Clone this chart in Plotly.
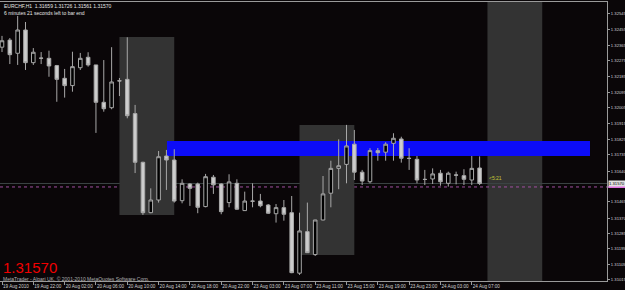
import plotly.graph_objects as go

# ---- data (EURCHF, H1) ----
bars = list(range(62))
opens = [1.32354, 1.32395, 1.32319, 1.32453, 1.32265, 1.32290, 1.32290, 1.32248, 1.32175, 1.32133,
         1.32236, 1.32296, 1.32252, 1.32037, 1.32006, 1.32161, 1.32169, 1.31972, 1.31692, 1.31402,
         1.31475, 1.31728, 1.31705, 1.31471, 1.31567, 1.31567, 1.31437, 1.31606, 1.31567, 1.31460,
         1.31571, 1.31414, 1.31469, 1.31469, 1.31446, 1.31396, 1.31431, 1.31402, 1.31054, 1.31293,
         1.31161, 1.31360, 1.31514, 1.31657, 1.31680, 1.31796, 1.31635, 1.31580, 1.31759, 1.31750,
         1.31801, 1.31826, 1.31715, 1.31709, 1.31594, 1.31596, 1.31629, 1.31571, 1.31619, 1.31615,
         1.31590, 1.31659]
highs = [1.32419, 1.32407, 1.32534, 1.32499, 1.32349, 1.32326, 1.32334, 1.32252, 1.32229, 1.32328,
         1.32321, 1.32325, 1.32252, 1.32280, 1.32354, 1.32177, 1.32411, 1.32022, 1.31695, 1.31542,
         1.31757, 1.31763, 1.31767, 1.31594, 1.31571, 1.31575, 1.31625, 1.31619, 1.31571, 1.31623,
         1.31594, 1.31523, 1.31571, 1.31510, 1.31452, 1.31452, 1.31475, 1.31498, 1.31402, 1.31460,
         1.31361, 1.31613, 1.31701, 1.31824, 1.31907, 1.31878, 1.31648, 1.31773, 1.31774, 1.31807,
         1.31859, 1.31839, 1.31773, 1.31728, 1.31648, 1.31657, 1.31648, 1.31638, 1.31638, 1.31652,
         1.31728, 1.31726]
lows = [1.32326, 1.32257, 1.32252, 1.32223, 1.32252, 1.32257, 1.32184, 1.32040, 1.32064, 1.32098,
        1.32223, 1.32242, 1.31861, 1.31983, 1.31997, 1.32073, 1.31945, 1.31630, 1.31389, 1.31399,
        1.31460, 1.31533, 1.31460, 1.31456, 1.31441, 1.31399, 1.31433, 1.31510, 1.31393, 1.31433,
        1.31418, 1.31414, 1.31433, 1.31433, 1.31395, 1.31345, 1.31356, 1.31054, 1.31044, 1.31170,
        1.31153, 1.31358, 1.31433, 1.31537, 1.31571, 1.31590, 1.31561, 1.31571, 1.31701, 1.31701,
        1.31701, 1.31690, 1.31648, 1.31571, 1.31561, 1.31567, 1.31557, 1.31552, 1.31565, 1.31561,
        1.31561, 1.31561]
closes = [1.32391, 1.32311, 1.32453, 1.32265, 1.32325, 1.32291, 1.32246, 1.32169, 1.32133, 1.32242,
          1.32290, 1.32252, 1.32037, 1.32000, 1.32154, 1.32160, 1.31960, 1.31692, 1.31402, 1.31475,
          1.31724, 1.31705, 1.31469, 1.31571, 1.31542, 1.31433, 1.31609, 1.31562, 1.31408, 1.31579,
          1.31422, 1.31469, 1.31468, 1.31442, 1.31399, 1.31431, 1.31393, 1.31057, 1.31297, 1.31172,
          1.31360, 1.31510, 1.31657, 1.31672, 1.31786, 1.31635, 1.31584, 1.31759, 1.31747, 1.31796,
          1.31830, 1.31715, 1.31714, 1.31590, 1.31593, 1.31625, 1.31580, 1.31629, 1.31618, 1.31594,
          1.31657, 1.31570]

time_tick_bars = [0, 4, 8, 12, 16, 20, 24, 28, 32, 36, 40, 44, 48, 52, 56, 60]
time_tick_labels = ["19 Aug 2010", "19 Aug 22:00", "20 Aug 02:00", "20 Aug 06:00", "20 Aug 10:00",
                    "20 Aug 14:00", "20 Aug 18:00", "20 Aug 22:00", "23 Aug 03:00", "23 Aug 07:00",
                    "23 Aug 11:00", "23 Aug 15:00", "23 Aug 19:00", "23 Aug 23:00", "24 Aug 03:00",
                    "24 Aug 07:00"]
price_ticks = [1.32545, 1.32455, 1.32365, 1.32275, 1.32185, 1.32095, 1.32005, 1.31915, 1.31825,
               1.31735, 1.31640, 1.31465, 1.31370, 1.31285, 1.31195, 1.31105, 1.31015]
price_tick_labels = ["1.32545", "1.32455", "1.32365", "1.32275", "1.32185", "1.32095", "1.32005",
                     "1.31915", "1.31825", "1.31735", "1.31640", "1.31465", "1.31370", "1.31285",
                     "1.31195", "1.31105", "1.31015"]

# grey session boxes (bar index start/end, price top/bottom; None = full height)
zone_x0 = [15, 38, 62]
zone_x1 = [22, 45, 69]
zone_top = [1.32413, 1.31907, None]
zone_bot = [1.31389, 1.31159, None]
# blue rectangle
blue_x0, blue_x1 = 21.07, 75.1
blue_top, blue_bot = 1.31815, 1.31728
bid_price = 1.31570
ask_line = 1.31550

BG = "#0a0608"
AX = "#9a9a9a"
FONT = "Liberation Sans, Arial, sans-serif"

fig = go.Figure()
fig.add_trace(go.Candlestick(
    x=bars, open=opens, high=highs, low=lows, close=closes,
    increasing=dict(line=dict(color="#a8a8a8", width=1), fillcolor="#000000"),
    decreasing=dict(line=dict(color="#a8a8a8", width=1), fillcolor="#cdcdcd"),
    whiskerwidth=0, showlegend=False, hoverinfo="skip",
))

shapes = []
for x0, x1, t, b in zip(zone_x0, zone_x1, zone_top, zone_bot):
    if t is None:
        shapes.append(dict(type="rect", xref="x", yref="paper", x0=x0, x1=x1, y0=0, y1=1,
                           fillcolor="#333333", line=dict(width=0), layer="below"))
    else:
        shapes.append(dict(type="rect", xref="x", yref="y", x0=x0, x1=x1, y0=b, y1=t,
                           fillcolor="#333333", line=dict(width=0), layer="below"))
shapes.append(dict(type="rect", xref="x", yref="y", x0=blue_x0, x1=blue_x1, y0=blue_bot, y1=blue_top,
                   fillcolor="#0c0cf8", line=dict(width=0), layer="below"))
shapes.append(dict(type="line", xref="paper", yref="y", x0=0, x1=1, y0=bid_price, y1=bid_price,
                   line=dict(color="#3c4444", width=1), layer="below"))
shapes.append(dict(type="line", xref="paper", yref="y", x0=0, x1=1, y0=ask_line, y1=ask_line,
                   line=dict(color="#a050a0", width=1, dash="dot"), layer="below"))
# pink ask-price tag on the price scale
shapes.append(dict(type="rect", xref="paper", yref="y", x0=1.002, x1=1.03,
                   y0=ask_line - 0.00006, y1=ask_line + 0.00006,
                   fillcolor="#e070e0", line=dict(width=0), layer="above"))

annotations = [
    dict(xref="paper", yref="paper", x=0.004, y=1, yshift=1, xanchor="left", yanchor="top",
         text="EURCHF,H1  1.31659 1.31726 1.31561 1.31570<br>6 minutes 21 seconds left to bar end",
         showarrow=False, align="left", font=dict(family=FONT, size=5, color="#e6e6e6")),
    dict(xref="paper", yref="paper", x=0.004, y=0, yshift=4, xanchor="left", yanchor="bottom",
         text="1.31570", showarrow=False, borderpad=0,
         font=dict(family=FONT, size=15, color="#f00000")),
    dict(xref="paper", yref="paper", x=0.004, y=0, yshift=-2, xanchor="left", yanchor="bottom",
         text="MetaTrader - Alpari UK, \u00a9 2001-2010 MetaQuotes Software Corp.", showarrow=False,
         borderpad=0, font=dict(family=FONT, size=5, color="#b0b0b0")),
    dict(xref="x", yref="y", x=61.9, y=1.31602, xanchor="left", yanchor="middle",
         text="<5:21", showarrow=False, font=dict(family=FONT, size=5, color="#c8c838")),
    dict(xref="paper", yref="y", x=1, y=bid_price, xanchor="left", yanchor="middle", xshift=1,
         text="1.31570", showarrow=False, bgcolor="#e0e0e0", borderpad=0,
         font=dict(family=FONT, size=4.2, color="#000000")),
]

fig.update_layout(
    width=625, height=290,
    margin=dict(l=0, r=18, t=2, b=9),
    paper_bgcolor=BG, plot_bgcolor=BG,
    boxgap=0.35,
    shapes=shapes, annotations=annotations,
    xaxis=dict(range=[-0.255, 77.27], rangeslider=dict(visible=False), showgrid=False,
               zeroline=False, showline=True, linecolor=AX, linewidth=1, mirror=True,
               tickmode="array", tickvals=time_tick_bars, ticktext=time_tick_labels,
               ticks="outside", ticklen=3, tickcolor=AX, ticklabelposition="outside right",
               tickangle=0, automargin=False,
               tickfont=dict(family=FONT, size=4.6, color="#d0d0d0"), fixedrange=True),
    yaxis=dict(range=[1.31009, 1.32614], side="right", showgrid=False, zeroline=False,
               showline=True, linecolor=AX, linewidth=1, automargin=False,
               tickmode="array", tickvals=price_ticks, ticktext=price_tick_labels,
               ticks="outside", ticklen=2, tickcolor=AX, ticklabelstandoff=0,
               tickfont=dict(family=FONT, size=4.2, color="#d0d0d0"), fixedrange=True),
    showlegend=False,
)

fig.write_html("out.html")
